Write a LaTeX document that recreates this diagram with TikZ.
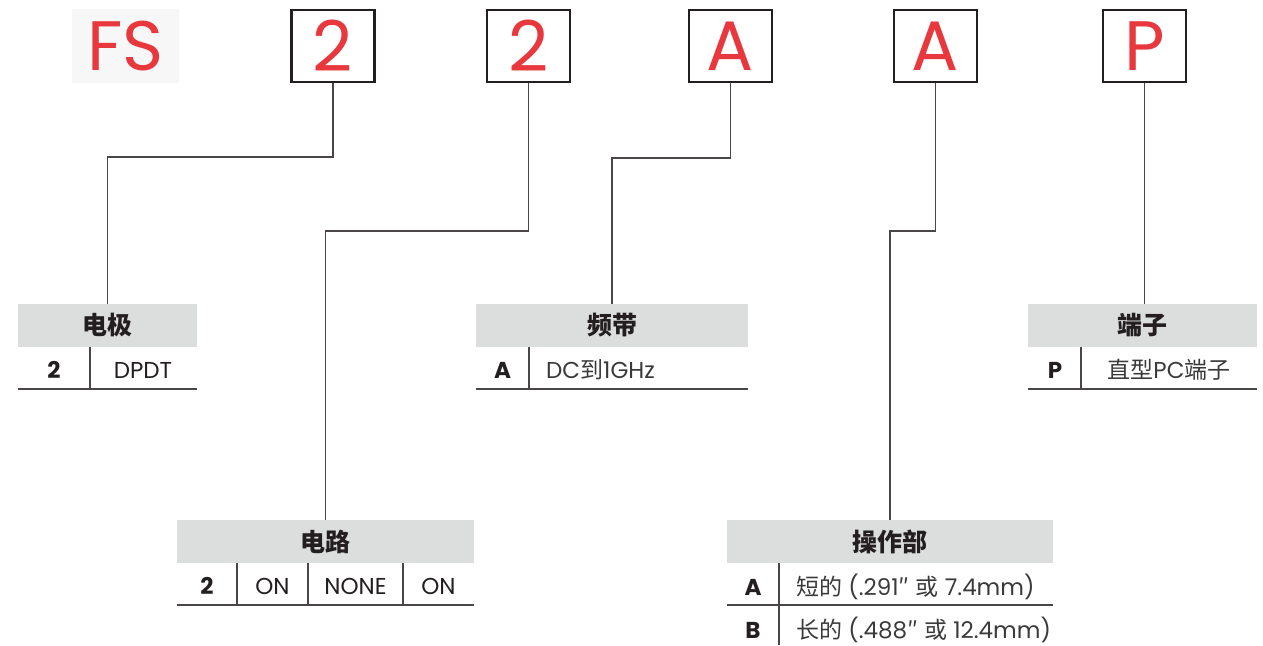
\documentclass[tikz,border=0pt]{standalone}
\usepackage{fontspec}
\setmainfont{Poppins}
\newfontfamily\cjk{Noto Sans CJK SC}
\definecolor{ink}{HTML}{231F20}
\definecolor{txt}{HTML}{3A3A3A}
\definecolor{red1}{HTML}{E8383D}
\definecolor{hdr}{HTML}{DCDDDD}
\definecolor{fsbg}{HTML}{F7F7F7}
\definecolor{lnc}{HTML}{4A4546}
\begin{document}
\begin{tikzpicture}[x=1pt,y=-1pt,
  codebox/.style={draw=ink, line width=2.4pt, minimum width=83pt, minimum height=72pt, inner sep=0pt,
    text=red1, font=\fontsize{70}{70}\selectfont},
  fsbox/.style={fill=fsbg, minimum width=107pt, minimum height=74pt, inner sep=0pt,
    text=red1, font=\fontsize{70}{70}\selectfont},
  hdrbox/.style={fill=hdr, minimum height=43pt, inner sep=0pt, text=ink,
    font=\cjk\bfseries\fontsize{25}{25}\selectfont},
  conn/.style={draw=lnc, line width=1.4pt},
  tbl/.style={draw=lnc, line width=1.5pt},
  codetxt/.style={anchor=base, inner sep=0pt, text=ink, font=\bfseries\fontsize{23}{23}\selectfont},
  celltxt/.style={anchor=base, inner sep=0pt, text=ink, font=\fontsize{23}{23}\selectfont},
  lefttxt/.style={anchor=base west, inner sep=0pt, text=txt, font=\fontsize{23}{23}\selectfont}
]
\useasboundingbox (0,0) rectangle (1263,645);

% top code boxes
\node[fsbox] (fs) at (125.5,46) {FS};
\node[codebox] (b1) at (333,46) {2};
\node[codebox] (b2) at (528.5,46) {2};
\node[codebox] (b3) at (730.5,46) {A};
\node[codebox] (b4) at (935.5,46) {A};
\node[codebox] (b5) at (1144.5,46) {P};

% headers
\node[hdrbox, minimum width=179pt] (h1) at (107.5,325.5) {电极};
\node[hdrbox, minimum width=272pt] (h2) at (612,325.5) {频带};
\node[hdrbox, minimum width=229pt] (h3) at (1142.5,325.5) {端子};
\node[hdrbox, minimum width=297pt] (h4) at (325.5,541.5) {电路};
\node[hdrbox, minimum width=326pt] (h5) at (890,541.5) {操作部};

% connectors
\coordinate (k1) at (333,157);
\coordinate (k2) at (528.5,231);
\coordinate (k3) at (730.5,158);
\coordinate (k4) at (935.5,231);
\draw[conn] (b1.south) -- (k1) -| (h1.north);
\draw[conn] (b2.south) -- (k2) -| (h4.north);
\draw[conn] (b3.south) -- (k3) -| (h2.north);
\draw[conn] (b4.south) -- (k4) -| (h5.north);
\draw[conn] (b5.south) -- (b5.south |- h3.north);

% table 电极
\draw[tbl] (18,389) -- (197,389);
\draw[tbl] (90,347) -- (90,389);
\node[codetxt] (t1a) at (54,378) {2};
\node[celltxt] (t1b) at (143,378) {DPDT};

% table 频带
\draw[tbl] (476,389) -- (748,389);
\draw[tbl] (529,347) -- (529,389);
\node[codetxt] (t2a) at (502.5,378) {A};
\node[lefttxt] (t2b) at (546,378) {DC{\cjk 到}1GHz};

% table 端子
\draw[tbl] (1028,389) -- (1257,389);
\draw[tbl] (1081,347) -- (1081,389);
\node[codetxt] (t3a) at (1055,378) {P};
\node[celltxt, text=txt] (t3b) at (1169,378) {{\cjk 直型}PC{\cjk 端子}};

% table 电路
\draw[tbl] (177,605) -- (474,605);
\draw[tbl] (237,563) -- (237,605);
\draw[tbl] (308,563) -- (308,605);
\draw[tbl] (403,563) -- (403,605);
\node[codetxt] (t4a) at (207,594) {2};
\node[celltxt] (t4b) at (272.5,594) {ON};
\node[celltxt] (t4c) at (355.5,594) {NONE};
\node[celltxt] (t4d) at (438.5,594) {ON};

% table 操作部
\draw[tbl] (727,605) -- (1053,605);
\draw[tbl] (779,563) -- (779,645);
\node[codetxt] (t5a) at (753,595) {A};
\node[lefttxt] (t5b) at (796,595) {{\cjk 短的} (.291{\cjk ″} {\cjk 或} 7.4mm)};
\node[codetxt] (t5c) at (753,638) {B};
\node[lefttxt] (t5d) at (796,638) {{\cjk 长的} (.488{\cjk ″} {\cjk 或} 12.4mm)};
\end{tikzpicture}
\end{document}
